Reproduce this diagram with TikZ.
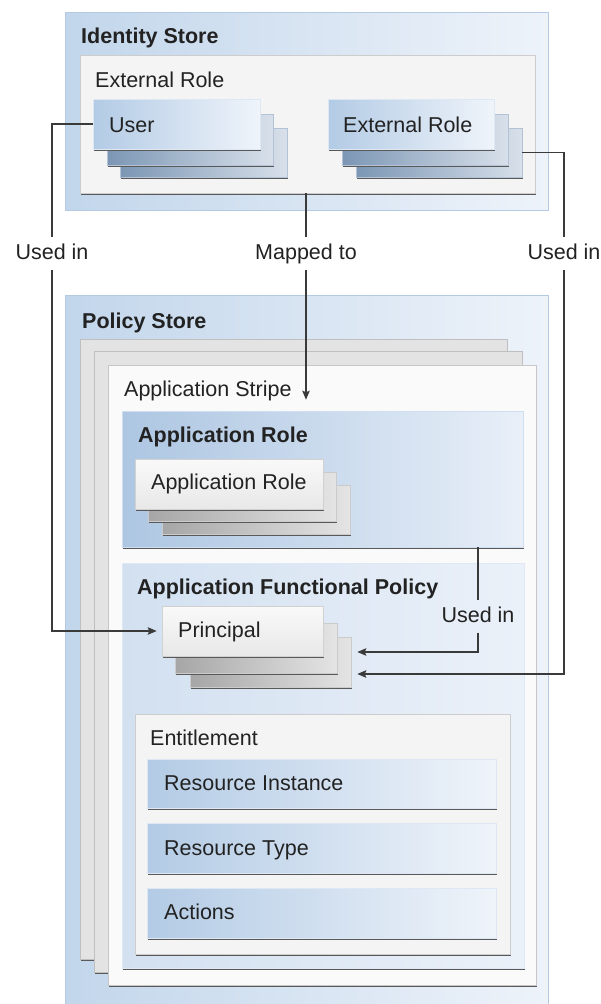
\documentclass[tikz,border=0pt]{standalone}
\usepackage{fontspec}
\setmainfont{Liberation Sans}
\usetikzlibrary{fit,shadows,arrows.meta,calc}

\definecolor{storeL}{HTML}{C2D6EB}
\definecolor{storeR}{HTML}{EEF3FA}
\definecolor{storeEdge}{HTML}{B4CAE2}
\definecolor{panel}{HTML}{F4F4F4}
\definecolor{panelEdge}{HTML}{CDCDCD}
\definecolor{cardL}{HTML}{B3CBE5}
\definecolor{cardR}{HTML}{EFF4FA}
\definecolor{deepL}{HTML}{7B96B4}
\definecolor{deepR}{HTML}{D8E0EA}
\definecolor{roleL}{HTML}{ADC6E2}
\definecolor{roleR}{HTML}{E8EFF8}
\definecolor{policyL}{HTML}{D2E0F0}
\definecolor{policyR}{HTML}{EBF1F9}
\definecolor{sheetBack}{HTML}{E3E3E3}
\definecolor{sheetFront}{HTML}{FAFAFA}
\definecolor{greyL}{HTML}{A6A6A6}
\definecolor{greyR}{HTML}{E4E4E4}
\definecolor{paleL}{HTML}{F9F9F9}
\definecolor{paleR}{HTML}{E8E8E8}
\definecolor{ink}{HTML}{222222}
\definecolor{wire}{HTML}{3A3A3A}

% a rectangle node spanning two corners
\newcommand\boxat[6]{\node[#6, fit={(#2,#3) (#4,#5)}] (#1) {};}

\begin{document}
\begin{tikzpicture}[x=1pt,y=-1pt,
  every node/.style={font=\fontsize{21.5}{25}\selectfont, inner sep=0pt, text=ink},
  shade/.style={general shadow={fill=black!65, shadow xshift=0.8pt, shadow yshift=-1.5pt}},
  store/.style={left color=storeL, right color=storeR, draw=storeEdge, line width=0.8pt,
                general shadow={fill=black!25, shadow xshift=0.6pt, shadow yshift=-1pt}},
  panelbox/.style={fill=panel, draw=panelEdge, line width=0.8pt, shade},
  card/.style={left color=cardL, middle color=cardL!65!cardR, right color=cardR,
               draw=cardR!70!cardL, line width=0.6pt, shade},
  deepcard/.style={left color=deepL, right color=deepR, draw=deepR!60!deepL, line width=0.6pt, shade},
  rolebox/.style={left color=roleL, middle color=roleL!55!roleR, right color=roleR,
                  draw=roleR!60!roleL, line width=0.6pt, shade},
  policybox/.style={left color=policyL, right color=policyR, draw=policyR!50!policyL, line width=0.6pt, shade},
  backsheet/.style={fill=sheetBack, draw=black!25, line width=0.8pt, shade},
  frontsheet/.style={fill=sheetFront, draw=black!22, line width=0.8pt, shade},
  greycard/.style={left color=greyL, right color=greyR, draw=greyR!60!greyL, line width=0.6pt, shade},
  palecard/.style={top color=paleL, bottom color=paleR, draw=black!18, line width=0.6pt, shade},
  txt/.style={anchor=base west},
  ttl/.style={anchor=base west, font=\fontsize{21.5}{25}\selectfont\bfseries},
  lbl/.style={anchor=base, text height=15.5pt, text depth=4.5pt, inner ysep=6pt, inner xsep=2pt},
  conn/.style={draw=wire, line width=1.2pt},
  tip/.style={-{Stealth[length=9pt,width=7.5pt,inset=1.5pt]}}
]
\useasboundingbox (0,0) rectangle (601,1004);

% ---------- Identity Store ----------
\boxat{idstore}{65}{12}{548}{210}{store}
\node[ttl] (tIdstore) at (81,43) {Identity Store};
\boxat{extarea}{80}{55}{535}{193}{panelbox}
\node[txt] (tExtarea) at (95,87) {External Role};

\boxat{user3}{120}{128}{287}{177}{deepcard}
\boxat{user2}{107}{114}{273}{165}{deepcard}
\boxat{user1}{93}{99}{260}{149}{card}
\node[txt] (tUser) at (109,132) {User};

\boxat{ext3}{356}{128}{522}{177}{deepcard}
\boxat{ext2}{342}{114}{508}{165}{deepcard}
\boxat{ext1}{328}{99}{494}{149}{card}
\node[txt] (tExt) at (343,132) {External Role};

% ---------- Policy Store ----------
\boxat{polstore}{65}{295}{548}{1012}{store}
\node[ttl] (tPolstore) at (82,328) {Policy Store};

\boxat{stripe3}{80}{339}{507}{959}{backsheet}
\boxat{stripe2}{94}{351}{522}{972}{backsheet}
\boxat{stripe1}{108}{365}{536}{985}{frontsheet}
\node[txt] (tStripe) at (124,396) {Application Stripe};

\boxat{approle}{122}{411}{523}{547}{rolebox}
\node[ttl] (tApprole) at (138,442) {Application Role};
\boxat{ar3}{162}{485}{350}{534}{greycard}
\boxat{ar2}{148}{472}{336}{521}{greycard}
\boxat{ar1}{135}{459}{323}{509}{palecard}
\node[txt] (tAr) at (151,489) {Application Role};

\boxat{afp}{122}{563}{524}{968}{policybox}
\node[ttl] (tAfp) at (137,594) {Application Functional Policy};
\boxat{prin3}{190}{637}{351}{687}{greycard}
\boxat{prin2}{175}{623}{337}{673}{greycard}
\boxat{prin1}{162}{606}{323}{656}{palecard}
\node[txt] (tPrin) at (178,637) {Principal};

\boxat{ent}{135}{714}{510}{954}{panelbox}
\node[txt] (tEnt) at (150,745) {Entitlement};
\boxat{res1}{147}{759}{496}{808}{card}
\node[txt] (tRes1) at (164,790) {Resource Instance};
\boxat{res2}{147}{823}{496}{873}{card}
\node[txt] (tRes2) at (164,855) {Resource Type};
\boxat{res3}{147}{888}{496}{938}{card}
\node[txt] (tRes3) at (164,919) {Actions};

% ---------- connector labels ----------
\node[lbl] (lblUser) at (52,259) {Used in};
\node[lbl] (lblMap) at (306,259) {Mapped to};
\node[lbl] (lblExt) at (564,259) {Used in};
\node[lbl] (lblRole) at (478,622) {Used in};

% ---------- connectors ----------
\draw[conn] (user1.west) -| (lblUser.north);
\draw[conn, tip, shorten >=5pt] (lblUser.south) |- (prin1.west);

\draw[conn] (extarea.south -| lblMap) -- (lblMap.north);
\draw[conn, tip, shorten >=11pt] (lblMap.south) -- (lblMap.south |- approle.north);

\draw[conn] (ext3.east) -| (lblExt.north);
\draw[conn, tip, shorten >=6pt] (lblExt.south) |- ($(prin3.east)+(0,12)$);

\draw[conn] (approle.south -| lblRole) -- (lblRole.north);
\draw[conn, tip, shorten >=6pt] (lblRole.south) |- ($(prin3.east)+(0,-10)$);
\end{tikzpicture}
\end{document}
